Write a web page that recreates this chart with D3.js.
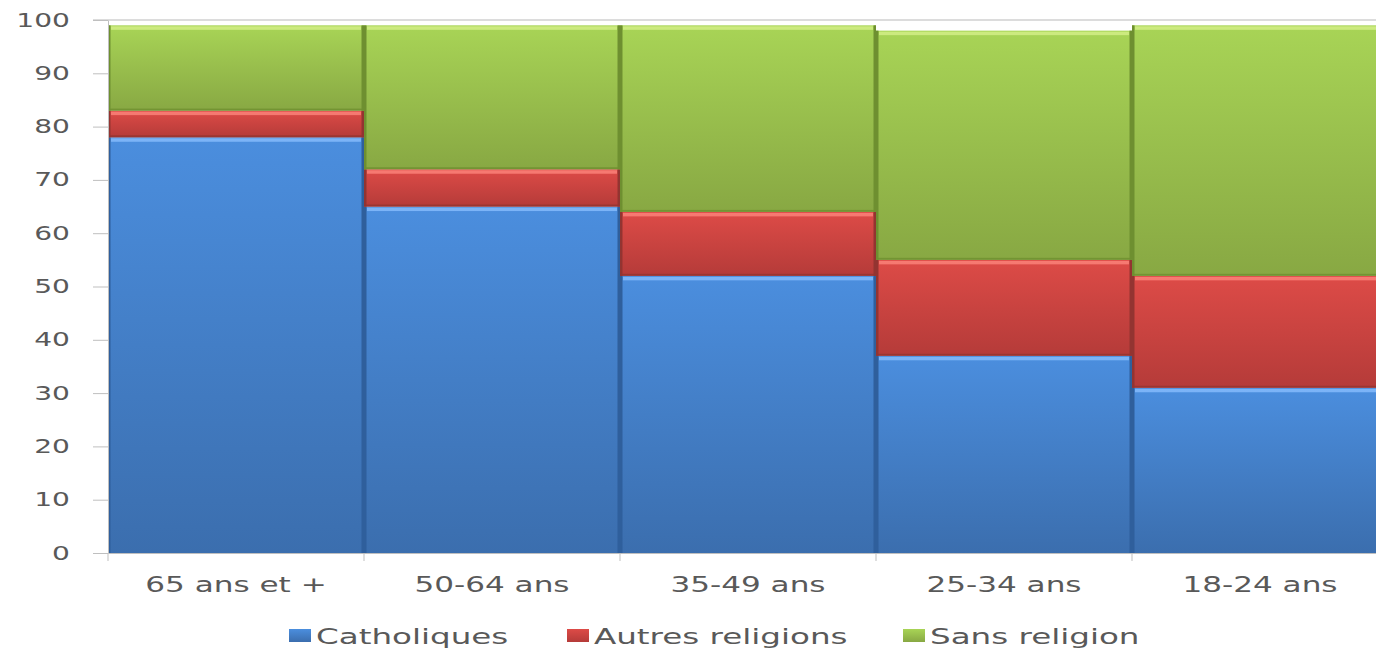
<!DOCTYPE html>
<html>
<head>
    <title>Religion par tranche d'âge</title>
    <script src="https://d3js.org/d3.v7.min.js"></script>
    <style>
        body { margin: 0; background: #fff; }
        text { font-family: "DejaVu Sans", Verdana, sans-serif; fill: #595959; }
    </style>
</head>
<body>
    <svg width="1376" height="648"></svg>
    <script>
        // data (percent)
        var ageGroups = ["65 ans et +", "50-64 ans", "35-49 ans", "25-34 ans", "18-24 ans"];
        var catholiques = [78, 65, 52, 37, 31];
        var autres = [5, 7, 12, 18, 21];
        var sansReligion = [16, 27, 35, 43, 47];
        var seriesNames = ["Catholiques", "Autres religions", "Sans religion"];
        var yTicks = [0, 10, 20, 30, 40, 50, 60, 70, 80, 90, 100];

        var colors = {
            "Catholiques": {top: "#4b8ede", bottom: "#3b6eae", edge: "#2f5f9c", light: "#8cc0ff"},
            "Autres religions": {top: "#dd4b47", bottom: "#b53b39", edge: "#933431", light: "#ff8a80"},
            "Sans religion": {top: "#a8d456", bottom: "#88a843", edge: "#6e8f30", light: "#d8f28e"}
        };

        var sx = 1.48; // the picture is stretched sideways, text too

        var svg = d3.select("svg"),
            margin = {top: 20, left: 108, bottom: 95};
        var height = 648 - margin.top - margin.bottom;

        var x = d3.scaleBand().domain(ageGroups).range([0, 1280]).padding(0);
        var y = d3.scaleLinear().domain([0, 100]).range([height, 0]);

        var defs = svg.append("defs");
        seriesNames.forEach(function(s, i) {
            var grad = defs.append("linearGradient")
                .attr("id", "grad" + i)
                .attr("x1", 0).attr("y1", 0).attr("x2", 0).attr("y2", 1);
            grad.append("stop").attr("offset", "0%").attr("stop-color", colors[s].top);
            grad.append("stop").attr("offset", "100%").attr("stop-color", colors[s].bottom);
        });

        var g = svg.append("g").attr("transform", "translate(" + margin.left + "," + margin.top + ")");

        // top gridline at 100
        g.append("line")
            .attr("x1", -15).attr("x2", 1300)
            .attr("y1", y(100)).attr("y2", y(100))
            .attr("stroke", "#d0d0d0").attr("stroke-width", 1.5);

        var rows = ageGroups.map(function(a, i) {
            return {age: a, "Catholiques": catholiques[i], "Autres religions": autres[i], "Sans religion": sansReligion[i]};
        });
        var stacked = d3.stack().keys(seriesNames)(rows);

        var layers = g.selectAll(".layer")
            .data(stacked)
            .enter().append("g")
            .attr("class", "layer");

        var seg = layers.selectAll("g")
            .data(function(d, i) { return d.map(function(p) { return {key: d.key, idx: i, p: p}; }); })
            .enter().append("g");

        seg.append("rect")
            .attr("x", function(d) { return x(d.p.data.age); })
            .attr("y", function(d) { return y(d.p[1]); })
            .attr("width", x.bandwidth())
            .attr("height", function(d) { return y(d.p[0]) - y(d.p[1]); })
            .attr("fill", function(d) { return "url(#grad" + d.idx + ")"; });

        // darker line under each segment
        seg.append("rect")
            .attr("x", function(d) { return x(d.p.data.age); })
            .attr("y", function(d) { return y(d.p[0]) - 2; })
            .attr("width", x.bandwidth())
            .attr("height", function(d) { return d.idx === 0 ? 0 : 2; })
            .attr("fill", function(d) { return colors[d.key].edge; })
            .attr("opacity", 0.8);

        // light band along the top of each segment
        seg.append("rect")
            .attr("x", function(d) { return x(d.p.data.age) + 3; })
            .attr("y", function(d) { return y(d.p[1]) + 1; })
            .attr("width", x.bandwidth() - 6)
            .attr("height", 3.5)
            .attr("fill", function(d) { return colors[d.key].light; })
            .attr("opacity", 0.75);

        // dark left and right edges
        seg.append("rect")
            .attr("x", function(d) { return x(d.p.data.age); })
            .attr("y", function(d) { return y(d.p[1]); })
            .attr("width", 2.5)
            .attr("height", function(d) { return y(d.p[0]) - y(d.p[1]); })
            .attr("fill", function(d) { return colors[d.key].edge; });
        seg.append("rect")
            .attr("x", function(d) { return x(d.p.data.age) + x.bandwidth() - 2.5; })
            .attr("y", function(d) { return y(d.p[1]); })
            .attr("width", 2.5)
            .attr("height", function(d) { return y(d.p[0]) - y(d.p[1]); })
            .attr("fill", function(d) { return colors[d.key].edge; });

        // y axis
        var yAxis = g.append("g")
            .call(d3.axisLeft(y).tickValues(yTicks).tickSize(15).tickSizeOuter(0));
        yAxis.select(".domain").attr("stroke", "#bfbfbf");
        yAxis.selectAll(".tick line").attr("stroke", "#bfbfbf");
        yAxis.selectAll(".tick text")
            .attr("font-size", 19)
            .attr("x", -38 / sx)
            .attr("transform", "scale(" + sx + ",1)")
            .style("fill", "#595959");

        // x axis
        var xAxis = g.append("g")
            .attr("transform", "translate(0," + height + ")")
            .call(d3.axisBottom(x).tickSize(0).tickPadding(24));
        xAxis.select(".domain").attr("stroke", "#bfbfbf");
        xAxis.selectAll(".tick text")
            .attr("font-size", 21)
            .attr("transform", "scale(" + sx + ",1)")
            .style("fill", "#595959");
        // band boundary tick marks
        g.selectAll(".bt")
            .data(ageGroups)
            .enter().append("line")
            .attr("x1", function(d) { return x(d); })
            .attr("x2", function(d) { return x(d); })
            .attr("y1", height).attr("y2", height + 8)
            .attr("stroke", "#bfbfbf");

        // legend
        var legendX = [289, 567, 903];
        var legend = svg.append("g")
            .selectAll("g")
            .data(seriesNames)
            .enter().append("g")
            .attr("transform", function(d, i) { return "translate(" + legendX[i] + ",629)"; });
        legend.append("rect")
            .attr("width", 22).attr("height", 13)
            .attr("fill", function(d, i) { return "url(#grad" + i + ")"; });
        legend.append("text")
            .attr("x", 27 / sx)
            .attr("y", 7)
            .attr("dy", "0.35em")
            .attr("font-size", 22)
            .attr("transform", "scale(" + sx + ",1)")
            .text(function(d) { return d; });
    </script>
</body>
</html>
